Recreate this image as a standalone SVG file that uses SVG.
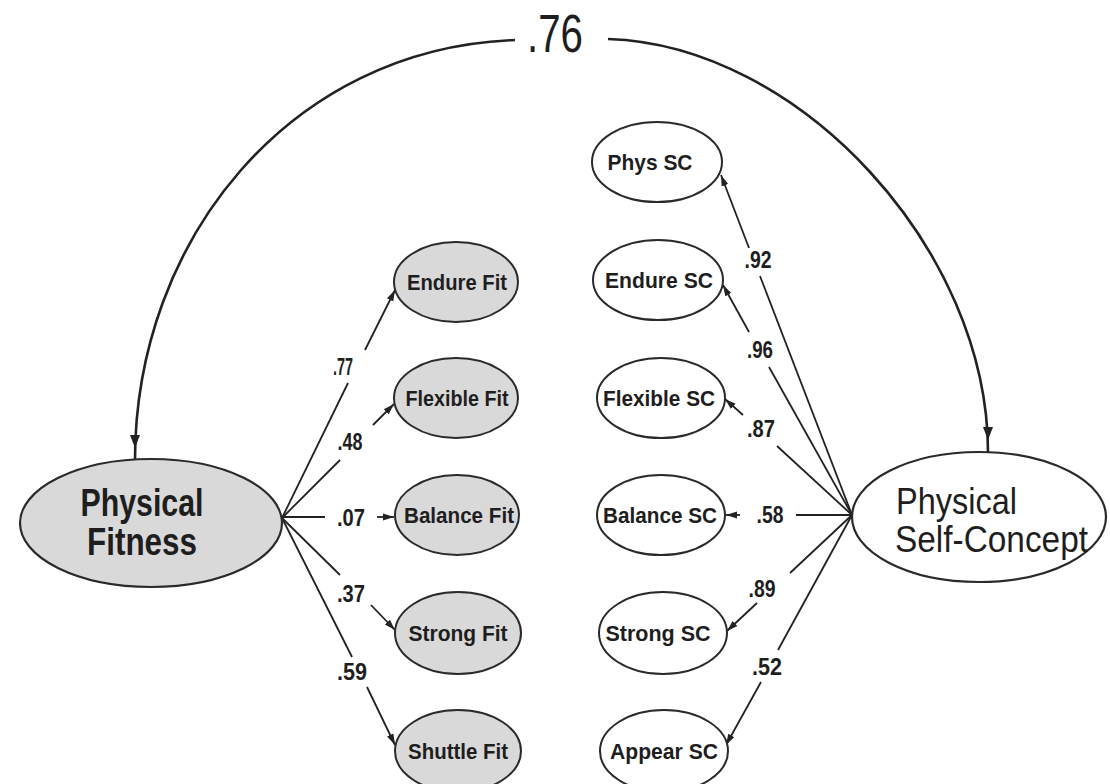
<svg xmlns="http://www.w3.org/2000/svg" width="1110" height="784" viewBox="0 0 1110 784">
<style>
.bg{fill:#ffffff}
.lat{stroke:#2a2a2a;stroke-width:2.2}
.ind{stroke:#2a2a2a;stroke-width:2}
.grey{fill:#d9d9d9}
.white{fill:#ffffff}
.ln{stroke:#222;stroke-width:1.8;fill:none}
.arc{stroke:#222;stroke-width:2.6;fill:none}
.t{font-family:"Liberation Sans",Arial,sans-serif;fill:#1e1e1e}
.ti{font-size:22px;font-weight:bold;text-anchor:middle}
.num{font-size:23px;font-weight:bold;text-anchor:middle}
.big{font-size:39px;font-weight:bold;text-anchor:middle}
.psc{font-size:37px}
.r76{font-size:53px;text-anchor:middle}
</style>
<defs>
<marker id="ah" markerUnits="userSpaceOnUse" markerWidth="12" markerHeight="10" viewBox="0 0 12 10" refX="11" refY="5" orient="auto">
<path d="M0,1.5 L11,5 L0,8.5 z" fill="#222"/>
</marker>
<marker id="ahArc" markerUnits="userSpaceOnUse" markerWidth="26" markerHeight="12" viewBox="0 0 26 12" refX="25" refY="6" orient="auto">
<path d="M0,1 L13,6 L0,11 z" fill="#222"/>
</marker>
</defs>
<rect class="bg" x="0" y="0" width="1110" height="784"/>

<g id="connectors">
<path id="arc-left" class="arc" d="M515,40 C290,48 135,240 135,460" marker-end="url(#ahArc)"/>
<path id="arc-right" class="arc" d="M608,39 C800,45 988,250 988,452" marker-end="url(#ahArc)"/>
<text class="t r76" x="555" y="52" textLength="56" lengthAdjust="spacingAndGlyphs">.76</text>

<line class="ln" x1="282" y1="518" x2="348" y2="383"/>
<line class="ln" x1="365" y1="350" x2="395" y2="290" marker-end="url(#ah)"/>
<text class="t num" x="343" y="375" textLength="20" lengthAdjust="spacingAndGlyphs">.77</text>

<line class="ln" x1="282" y1="518" x2="340" y2="460"/>
<line class="ln" x1="373" y1="425" x2="394" y2="404" marker-end="url(#ah)"/>
<text class="t num" x="350" y="450" textLength="25" lengthAdjust="spacingAndGlyphs">.48</text>

<line class="ln" x1="282" y1="517" x2="325" y2="517"/>
<line class="ln" x1="377" y1="517" x2="394" y2="517" marker-end="url(#ah)"/>
<text class="t num" x="351" y="526" textLength="28" lengthAdjust="spacingAndGlyphs">.07</text>

<line class="ln" x1="282" y1="518" x2="340" y2="575"/>
<line class="ln" x1="371" y1="605" x2="395" y2="630" marker-end="url(#ah)"/>
<text class="t num" x="351" y="602" textLength="28" lengthAdjust="spacingAndGlyphs">.37</text>

<line class="ln" x1="282" y1="518" x2="352" y2="657"/>
<line class="ln" x1="367" y1="687" x2="395" y2="745" marker-end="url(#ah)"/>
<text class="t num" x="352" y="680" textLength="30" lengthAdjust="spacingAndGlyphs">.59</text>

<line class="ln" x1="852" y1="515" x2="760" y2="276"/>
<line class="ln" x1="749" y1="248" x2="721" y2="175" marker-end="url(#ah)"/>
<text class="t num" x="758" y="268" textLength="27" lengthAdjust="spacingAndGlyphs">.92</text>

<line class="ln" x1="852" y1="515" x2="769" y2="367"/>
<line class="ln" x1="749" y1="332" x2="723" y2="285" marker-end="url(#ah)"/>
<text class="t num" x="760" y="358" textLength="26" lengthAdjust="spacingAndGlyphs">.96</text>

<line class="ln" x1="852" y1="515" x2="777" y2="446"/>
<line class="ln" x1="743" y1="415" x2="725" y2="399" marker-end="url(#ah)"/>
<text class="t num" x="761" y="437" textLength="28" lengthAdjust="spacingAndGlyphs">.87</text>

<line class="ln" x1="852" y1="515" x2="796" y2="515"/>
<line class="ln" x1="740" y1="515" x2="726" y2="515" marker-end="url(#ah)"/>
<text class="t num" x="770" y="523" textLength="27" lengthAdjust="spacingAndGlyphs">.58</text>

<line class="ln" x1="852" y1="515" x2="790" y2="573"/>
<line class="ln" x1="757" y1="603" x2="727" y2="631" marker-end="url(#ah)"/>
<text class="t num" x="762" y="597" textLength="27" lengthAdjust="spacingAndGlyphs">.89</text>

<line class="ln" x1="852" y1="515" x2="778" y2="650"/>
<line class="ln" x1="761" y1="682" x2="726" y2="745" marker-end="url(#ah)"/>
<text class="t num" x="767" y="675" textLength="30" lengthAdjust="spacingAndGlyphs">.52</text>
</g>

<g id="physical-fitness">
<ellipse class="lat grey" cx="151" cy="523" rx="131" ry="64"/>
<text class="t big" x="142" y="516" textLength="123" lengthAdjust="spacingAndGlyphs">Physical</text>
<text class="t big" x="142" y="555" textLength="110" lengthAdjust="spacingAndGlyphs">Fitness</text>
</g>

<g id="physical-self-concept">
<ellipse class="lat white" cx="979" cy="517" rx="127" ry="65"/>
<text class="t psc" x="896" y="514" textLength="121" lengthAdjust="spacingAndGlyphs">Physical</text>
<text class="t psc" x="895" y="552" textLength="193" lengthAdjust="spacingAndGlyphs">Self-Concept</text>
</g>

<g id="endure-fit">
<ellipse class="ind grey" cx="456" cy="282" rx="62" ry="40"/>
<text class="t ti" x="457" y="290" textLength="100" lengthAdjust="spacingAndGlyphs">Endure Fit</text>
</g>
<g id="flexible-fit">
<ellipse class="ind grey" cx="456" cy="398" rx="62" ry="40"/>
<text class="t ti" x="457" y="406" textLength="103" lengthAdjust="spacingAndGlyphs">Flexible Fit</text>
</g>
<g id="balance-fit">
<ellipse class="ind grey" cx="457" cy="515" rx="62" ry="40"/>
<text class="t ti" x="459" y="523" textLength="110" lengthAdjust="spacingAndGlyphs">Balance Fit</text>
</g>
<g id="strong-fit">
<ellipse class="ind grey" cx="458" cy="633" rx="63" ry="41"/>
<text class="t ti" x="458" y="641" textLength="99" lengthAdjust="spacingAndGlyphs">Strong Fit</text>
</g>
<g id="shuttle-fit">
<ellipse class="ind grey" cx="458" cy="751" rx="63" ry="41"/>
<text class="t ti" x="458" y="759" textLength="100" lengthAdjust="spacingAndGlyphs">Shuttle Fit</text>
</g>

<g id="phys-sc">
<ellipse class="ind white" cx="657" cy="162" rx="65" ry="40"/>
<text class="t ti" x="650" y="170" textLength="85" lengthAdjust="spacingAndGlyphs">Phys SC</text>
</g>
<g id="endure-sc">
<ellipse class="ind white" cx="658" cy="280" rx="65" ry="40"/>
<text class="t ti" x="659" y="288" textLength="108" lengthAdjust="spacingAndGlyphs">Endure SC</text>
</g>
<g id="flexible-sc">
<ellipse class="ind white" cx="661" cy="398" rx="64" ry="40"/>
<text class="t ti" x="659" y="406" textLength="112" lengthAdjust="spacingAndGlyphs">Flexible SC</text>
</g>
<g id="balance-sc">
<ellipse class="ind white" cx="661" cy="515" rx="64" ry="40"/>
<text class="t ti" x="660" y="523" textLength="114" lengthAdjust="spacingAndGlyphs">Balance SC</text>
</g>
<g id="strong-sc">
<ellipse class="ind white" cx="663" cy="633" rx="64" ry="41"/>
<text class="t ti" x="658" y="641" textLength="105" lengthAdjust="spacingAndGlyphs">Strong SC</text>
</g>
<g id="appear-sc">
<ellipse class="ind white" cx="664" cy="751" rx="64" ry="41"/>
<text class="t ti" x="664" y="759" textLength="108" lengthAdjust="spacingAndGlyphs">Appear SC</text>
</g>
</svg>
